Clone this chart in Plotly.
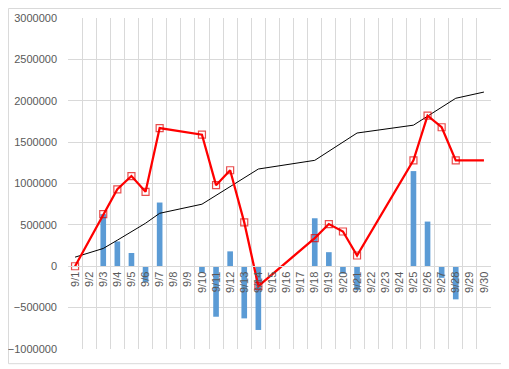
import plotly.graph_objects as go

days = [f"9/{d}" for d in range(1, 31)]

# daily bars (None = no bar)
bar_values = [None, None, 630000, 300000, 160000, -190000, 770000, None, None, -80000,
              -610000, 180000, -630000, -770000, None, None, None, 580000, 170000, -90000,
              -290000, None, None, None, 1150000, 540000, -140000, -400000, None, None]

# red running line (None = no point)
red_values = [0, None, 630000, 930000, 1090000, 900000, 1670000, None, None, 1590000,
              980000, 1160000, 530000, -240000, None, None, None, 340000, 510000, 420000,
              130000, None, None, None, 1280000, 1820000, 1680000, 1280000, 1280000, 1280000]
red_marker_sizes = [7] * 28 + [0, 0]

# black line
black_values = [110000, None, 215000, 315000, 420000, 520000, 640000, None, None, 750000,
                None, None, None, 1175000, None, None, None, 1280000, None, None,
                1610000, None, None, None, 1705000, None, None, 2030000, None, 2105000]

y_ticks = [-1000000, -500000, 0, 500000, 1000000, 1500000, 2000000, 2500000, 3000000]

grid = "#d9d9d9"
txt = "#595959"
font_family = "Liberation Sans, Arial, sans-serif"

fig = go.Figure()
fig.add_trace(go.Bar(x=days, y=bar_values, marker=dict(color="#5b9bd5", line=dict(width=0)),
                     width=0.4, showlegend=False))
fig.add_trace(go.Scatter(x=days, y=black_values, mode="lines", connectgaps=True,
                         line=dict(color="#000000", width=1), showlegend=False))
fig.add_trace(go.Scatter(x=days, y=red_values, mode="lines+markers", connectgaps=True,
                         line=dict(color="#ff0000", width=2.25),
                         marker=dict(symbol="square-open", size=red_marker_sizes,
                                     color="#e00000", line=dict(width=1.2)),
                         showlegend=False))

fig.update_layout(
    width=501, height=361,
    margin=dict(l=60, r=18, t=10, b=20, autoexpand=False),
    paper_bgcolor="white", plot_bgcolor="white",
    font=dict(family=font_family, size=11, color=txt),
    shapes=[dict(type="rect", xref="paper", yref="paper",
                 x0=-0.1407, x1=1.0343, y0=-0.0444, y1=1.0287,
                 line=dict(color=grid, width=1), fillcolor="rgba(0,0,0,0)", layer="below")],
)
fig.update_xaxes(
    type="category", categoryorder="array", categoryarray=days,
    tickmode="array", tickvals=days, ticktext=days,
    tickson="boundaries", showgrid=True, gridcolor=grid, gridwidth=1,
    ticks="", tickangle=-90, tickfont=dict(size=11, color=txt),
    anchor="free", position=0.25, showline=True, linecolor=grid, linewidth=1,
    mirror=False, zeroline=False, automargin=False, range=[-0.5, 29.5],
)
fig.update_yaxes(
    range=[-1000000, 3000000], tickvals=y_ticks, tickformat="d",
    showgrid=True, gridcolor=grid, gridwidth=1, zeroline=False,
    ticks="", tickfont=dict(size=11, color=txt), ticklabelstandoff=10,
    showline=False, automargin=False,
)

fig.write_html("out.html")
